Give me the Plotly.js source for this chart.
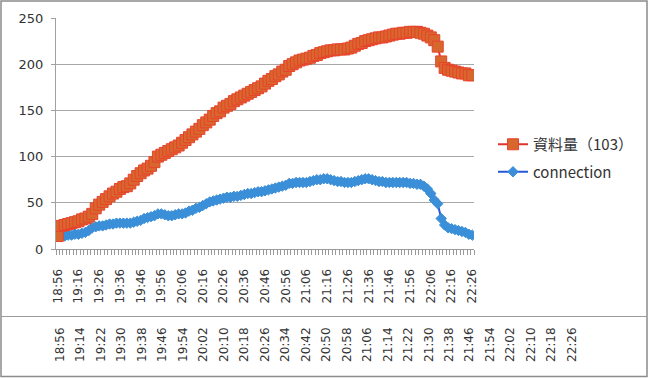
<!DOCTYPE html>
<html>
<head>
<meta charset="utf-8">
<script src="https://cdn.plot.ly/plotly-3.0.1.min.js"></script>
<style>
html,body{margin:0;padding:0;background:#fff;}
#chart{width:650px;height:378px;}
</style>
</head>
<body>
<div id="chart"></div>
<script>
// ---- data ----
const seriesNames = ["資料量（103）", "connection"];
const tickLabels = ["18:56","19:16","19:26","19:36","19:46","19:56","20:06","20:16","20:26","20:36","20:46",
  "20:56","21:06","21:16","21:26","21:36","21:46","21:56","22:06","22:16","22:26"];
const lowerTickLabels = ["18:56","19:14","19:22","19:30","19:38","19:46","19:54","20:02","20:10","20:18","20:26",
  "20:34","20:42","20:50","20:58","21:06","21:14","21:22","21:30","21:38","21:46","21:54","22:02","22:10","22:18","22:26"];
const dataVolume = [
  14,25,26,27,28,29,30,32,33,35,
  38,44,48,51,54,57,60,62,65,67,68,71,75,79,82,85,87,90,94,
  100,102,104,106,108,110,112,115,118,121,124,127,130,134,137,140,144,147,149,
  153,155,157,160,162,164,166,168,170,172,174,176,179,182,184,187,189,192,194,
  198,200,202,204,205,206,207,209,210,212,213,214,215,215,216,216,216,217,218,
  220,222,223,225,226,227,228,229,229,230,231,232,233,233,234,
  234,235,235,235,234,233,231,229,226,219,203,196,194,193,192,191,190,190,188,188
];
const connection = [
  14,14,14,15,15,16,16,17,18,20,
  23,24,25,25,26,27,27,28,28,28,28,28,29,30,31,33,34,35,36,
  38,38,37,36,36,37,38,38,39,41,42,44,45,47,49,51,52,53,54,
  55,56,56,57,57,58,59,60,60,61,62,62,63,64,65,66,67,68,69,
  71,71,72,72,72,72,73,74,75,75,76,76,75,74,73,73,72,72,72,
  73,74,75,76,76,75,74,73,73,72,72,72,72,72,72,
  72,71,71,70,70,68,65,60,53,49,33,26,23,22,21,20,19,18,16,15
];
const labelEvery = 6;

// ---- build ----
const idx = dataVolume.map((_, i) => i);
const tickVals = tickLabels.map((_, i) => i * labelEvery);
const W = 650, H = 378, ML = 40, MR = 40, MT = 18, MB = 0;
const PW = W - ML - MR, PH = H - MT - MB;
const fx = px => (px - ML) / PW;
const fy = py => (H - MB - py) / PH;

const traces = [
  {
    x: idx, y: connection, name: seriesNames[1], type: 'scatter', mode: 'lines+markers',
    line: {color: '#2458d4', width: 2},
    marker: {symbol: 'diamond', size: 8, color: '#3a8fd8', line: {color: '#3a8fd8', width: 1}},
    legendgroup: 'b', legendrank: 2, hoverinfo: 'skip'
  },
  {
    x: idx, y: dataVolume, name: seriesNames[0], type: 'scatter', mode: 'lines+markers',
    line: {color: '#e0352c', width: 2},
    marker: {symbol: 'square', size: 11, color: '#d8672e', line: {color: '#e8422c', width: 1}},
    legendgroup: 'a', legendrank: 1, hoverinfo: 'skip'
  },
  {
    x: lowerTickLabels, y: lowerTickLabels.map(() => null), xaxis: 'x2', yaxis: 'y2',
    type: 'scatter', mode: 'none', showlegend: false, hoverinfo: 'skip'
  }
];

const tickFont = {family: 'DejaVu Sans, sans-serif', size: 12, color: '#333'};

const layout = {
  width: W, height: H,
  margin: {l: ML, r: MR, t: MT, b: MB, pad: 0},
  paper_bgcolor: '#fff', plot_bgcolor: '#fff',
  showlegend: true,
  legend: {
    x: fx(493), y: fy(128), xanchor: 'left', yanchor: 'top',
    font: {family: 'Noto Sans CJK TC, sans-serif', size: 15, color: '#333'},
    tracegroupgap: 5, bgcolor: 'rgba(0,0,0,0)'
  },
  xaxis: {
    domain: [fx(56), fx(474)],
    range: [-0.5, dataVolume.length - 0.5],
    tickmode: 'array', tickvals: tickVals, ticktext: tickLabels,
    tickangle: -90, ticks: '', tickfont: tickFont, ticklabelstandoff: 14,
    showgrid: false, zeroline: false,
    showline: true, linecolor: '#9a9a9a', linewidth: 1,
    minor: {tickmode: 'linear', tick0: -0.5, dtick: 1, ticks: 'outside', ticklen: 5, tickcolor: '#9a9a9a', tickwidth: 1, showgrid: false},
    fixedrange: true
  },
  yaxis: {
    domain: [fy(249), fy(18)],
    range: [0, 250], tickmode: 'linear', tick0: 0, dtick: 50,
    ticks: 'outside', ticklen: 4, tickcolor: '#a0a0a0',
    tickfont: {family: 'DejaVu Sans, sans-serif', size: 13, color: '#333'},
    ticklabelstandoff: 5,
    showgrid: true, gridcolor: '#a8a8a8', gridwidth: 1,
    zeroline: false, showline: true, linecolor: '#a0a0a0', linewidth: 1,
    fixedrange: true
  },
  xaxis2: {
    anchor: 'y2', domain: [fx(49.76), fx(582.24)],
    type: 'category', range: [-0.5, lowerTickLabels.length - 0.5],
    tickangle: -90, ticks: '', tickfont: tickFont, ticklabelstandoff: 6,
    showgrid: false, zeroline: false, showline: false, fixedrange: true
  },
  yaxis2: {
    anchor: 'x2', domain: [fy(318), fy(300)], visible: false, range: [0, 1], fixedrange: true
  },
  shapes: [
    {type: 'rect', xref: 'paper', yref: 'paper', x0: fx(1), x1: fx(647), y0: fy(376.5), y1: fy(1),
     line: {color: '#8c8c8c', width: 1.5}, fillcolor: 'rgba(0,0,0,0)', layer: 'above'},
    {type: 'line', xref: 'paper', yref: 'paper', x0: fx(1), x1: fx(647), y0: fy(316.5), y1: fy(316.5),
     line: {color: '#9a9a9a', width: 1}, layer: 'above'}
  ]
};

Plotly.newPlot('chart', traces, layout, {displayModeBar: false, staticPlot: true});
</script>
</body>
</html>
